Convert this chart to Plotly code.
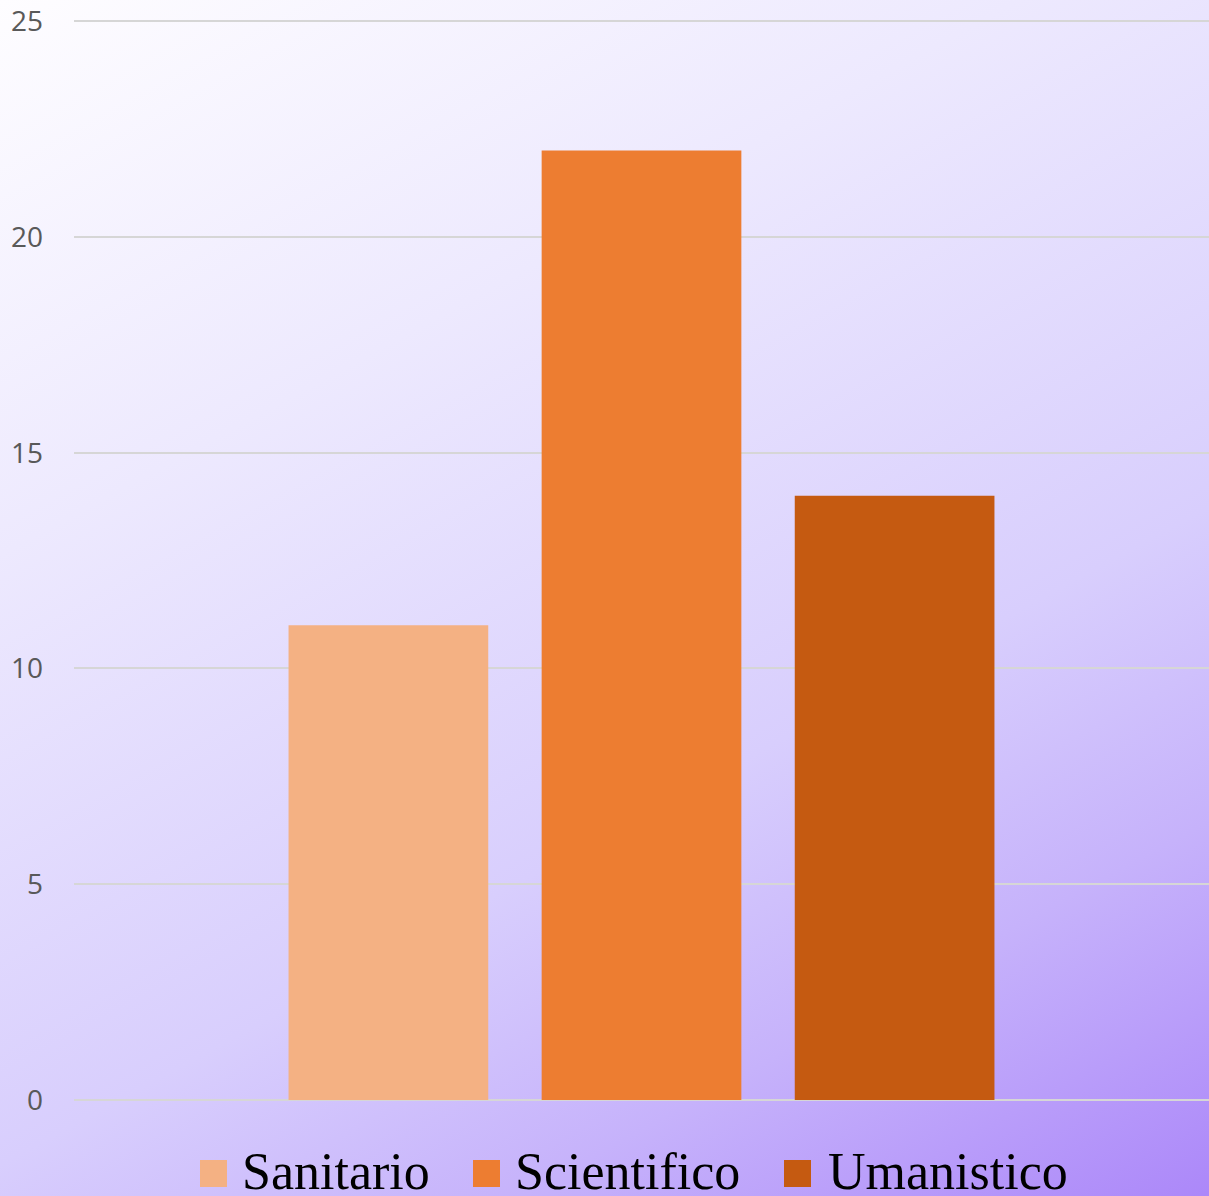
import base64
import plotly.graph_objects as go

# ---- data ----
categories = ["Sanitario", "Scientifico", "Umanistico"]
values = [11, 22, 14]
colors = ["#F4B183", "#ED7D31", "#C55A11"]
y_ticks = [0, 5, 10, 15, 20, 25]

W, H = 1209, 1196
ML, MR, MT, MB = 74, 0, 19, 96
PW, PH = W - ML - MR, H - MT - MB
Y_MAX = 25.05


def px_x(x):
    return (x - ML) / PW


def px_y(y):
    return (H - MB - y) / PH


# background gradient as svg
svg = f'''<svg xmlns="http://www.w3.org/2000/svg" width="{W}" height="{H}" viewBox="0 0 {W} {H}" preserveAspectRatio="none">
<defs><linearGradient id="g" x1="0" y1="0" x2="{0.642*W:.1f}" y2="{1.193*H:.1f}" gradientUnits="userSpaceOnUse">
<stop offset="0" stop-color="#FEFDFF"/>
<stop offset="0.3" stop-color="#EDE9FE"/>
<stop offset="0.63" stop-color="#D8CEFD"/>
<stop offset="0.8" stop-color="#C6B2FB"/>
<stop offset="1" stop-color="#AC88F9"/>
</linearGradient></defs>
<rect x="0" y="0" width="{W}" height="{H}" fill="url(#g)"/></svg>'''
svg_uri = "data:image/svg+xml;base64," + base64.b64encode(svg.encode()).decode()

fig = go.Figure()
for name, val, col in zip(categories, values, colors):
    fig.add_trace(go.Bar(x=["Totale"], y=[val], name=name, marker=dict(color=col, line=dict(width=0)),
                         showlegend=False))

fig.add_layout_image(dict(source=svg_uri, xref="paper", yref="paper",
                          x=px_x(0), y=px_y(0), sizex=W / PW, sizey=H / PH,
                          xanchor="left", yanchor="top", sizing="stretch", layer="below"))

# manual legend
legend_sq_x = [200, 473, 784]
legend_txt_x = [240, 513, 826]
shapes = []
annotations = []
for name, col, sx, tx in zip(categories, colors, legend_sq_x, legend_txt_x):
    shapes.append(dict(type="rect", xref="paper", yref="paper",
                       x0=px_x(sx), x1=px_x(sx + 27), y0=px_y(1187), y1=px_y(1160),
                       fillcolor=col, line=dict(width=0)))
    annotations.append(dict(text=name, xref="paper", yref="paper", x=px_x(tx), y=px_y(1171),
                            xanchor="left", yanchor="middle", showarrow=False,
                            font=dict(family="Liberation Serif", size=52, color="#000000")))

fig.update_layout(
    width=W, height=H,
    margin=dict(l=ML, r=MR, t=MT, b=MB),
    paper_bgcolor="white", plot_bgcolor="rgba(0,0,0,0)",
    barmode="group", bargap=0.331, bargroupgap=0.211,
    shapes=shapes, annotations=annotations,
    xaxis=dict(showticklabels=False, showgrid=False, zeroline=False, showline=False, ticks=""),
    yaxis=dict(range=[0, Y_MAX], tickvals=y_ticks, showgrid=True, gridcolor="#D6D6D6", gridwidth=2,
               zeroline=True, zerolinecolor="#D6D6D6", zerolinewidth=2, showline=False,
               ticks="", ticklabelstandoff=30,
               tickfont=dict(family="Open Sans", size=28, color="#595959")),
)

fig.write_html("out.html", config={"displayModeBar": False},
               post_script="document.body.style.margin='0';document.body.style.overflow='hidden';")
